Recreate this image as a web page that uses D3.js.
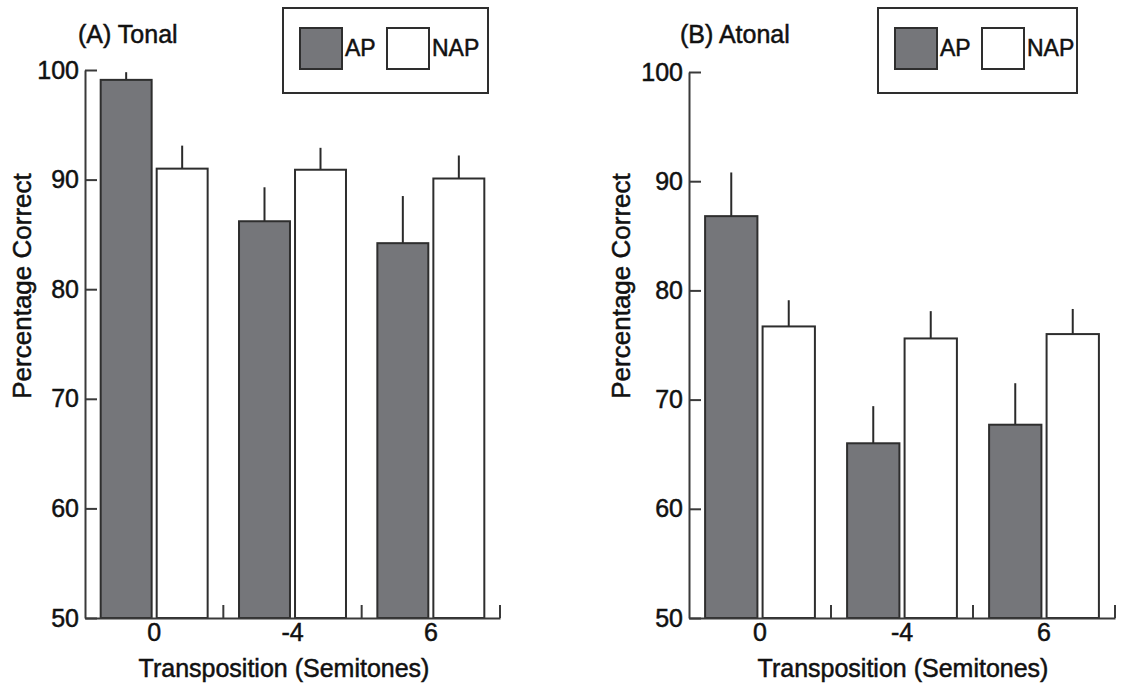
<!DOCTYPE html>
<html>
<head>
<meta charset="utf-8">
<script src="https://cdn.jsdelivr.net/npm/d3@7"></script>
<style>
  body { margin: 0; background: #fff; }
  svg { display: block; font-family: "Liberation Sans", Arial, Helvetica, sans-serif; }
  svg text { fill: #111; stroke: #111; stroke-width: 0.5px; }
  .axis path, .axis line { stroke: #3a3a3a; stroke-width: 2px; }
  .axis text { font-size: 25px; }
</style>
</head>
<body>
<div id="chart"></div>
<script>
var groups = ["0", "-4", "6"];
var series = ["AP", "NAP"];
var yTicks = [50, 60, 70, 80, 90, 100];

// (A) Tonal
var tonalAP = [99.1, 86.2, 84.2];
var tonalAPErr = [0.7, 3.1, 4.3];
var tonalNAP = [91.0, 90.9, 90.1];
var tonalNAPErr = [2.1, 2.0, 2.1];

// (B) Atonal
var atonalAP = [86.8, 66.0, 67.7];
var atonalAPErr = [4.0, 3.4, 3.8];
var atonalNAP = [76.7, 75.6, 76.0];
var atonalNAPErr = [2.4, 2.5, 2.3];

var colors = { AP: "#75767a", NAP: "#ffffff" };

var svg = d3.select("#chart")
  .append("svg")
  .attr("width", 1134)
  .attr("height", 688);

function drawPanel(p) {
  var g = svg.append("g");

  var xScale = d3.scaleBand().domain(groups).range([p.x0, p.x1]);
  var inner = d3.scaleBand().domain(series)
    .range([0, xScale.bandwidth()])
    .paddingInner(0.09)
    .paddingOuter(0.28);
  var yScale = d3.scaleLinear().domain([50, 100]).range([618, p.yTop]);

  var rows = [];
  groups.forEach(function(grp, i) {
    rows.push({ group: grp, s: "AP", v: p.ap[i], e: p.apErr[i] });
    rows.push({ group: grp, s: "NAP", v: p.nap[i], e: p.napErr[i] });
  });

  // error bars (one sided, up)
  g.selectAll(".err")
    .data(rows)
    .enter()
    .append("line")
    .attr("class", "err")
    .attr("x1", function(d) { return xScale(d.group) + inner(d.s) + inner.bandwidth() / 2; })
    .attr("x2", function(d) { return xScale(d.group) + inner(d.s) + inner.bandwidth() / 2; })
    .attr("y1", function(d) { return yScale(d.v); })
    .attr("y2", function(d) { return yScale(d.v + d.e); })
    .attr("stroke", "#2a2a2a")
    .attr("stroke-width", 2);

  g.selectAll(".bar")
    .data(rows)
    .enter()
    .append("rect")
    .attr("class", "bar")
    .attr("x", function(d) { return xScale(d.group) + inner(d.s); })
    .attr("width", inner.bandwidth())
    .attr("y", function(d) { return yScale(d.v); })
    .attr("height", function(d) { return yScale(50) - yScale(d.v); })
    .attr("fill", function(d) { return colors[d.s]; })
    .attr("stroke", "#2e2e2e")
    .attr("stroke-width", 2);

  // axes
  var yAxis = d3.axisLeft(yScale).tickValues(yTicks).tickSizeInner(-12).tickSizeOuter(0).tickPadding(6);
  g.append("g")
    .attr("class", "axis y-axis")
    .attr("transform", "translate(" + p.x0 + ",0)")
    .call(yAxis);

  var xAxis = d3.axisBottom(xScale).tickSize(0).tickPadding(5);
  g.append("g")
    .attr("class", "axis x-axis")
    .attr("transform", "translate(0,618)")
    .call(xAxis);

  // upward ticks between groups
  g.selectAll(".sep")
    .data(groups)
    .enter()
    .append("line")
    .attr("class", "sep")
    .attr("x1", function(d) { return xScale(d) + xScale.bandwidth(); })
    .attr("x2", function(d) { return xScale(d) + xScale.bandwidth(); })
    .attr("y1", 618)
    .attr("y2", 605)
    .attr("stroke", "#3a3a3a")
    .attr("stroke-width", 2);

  g.append("text")
    .attr("x", p.titleX)
    .attr("y", 43)
    .attr("style", "font-size:25px")
    .text(p.title);

  g.append("text")
    .attr("text-anchor", "middle")
    .attr("x", p.xLabelX)
    .attr("y", 677)
    .attr("style", "font-size:25px")
    .text("Transposition (Semitones)");

  g.append("text")
    .attr("text-anchor", "middle")
    .attr("transform", "translate(" + p.yLabelX + ",286) rotate(-90)")
    .attr("style", "font-size:26px")
    .text("Percentage Correct");

  // legend
  var leg = g.append("g").attr("transform", "translate(" + p.legX + ",8)");
  leg.append("rect")
    .attr("width", p.legW).attr("height", 85)
    .attr("fill", "#fff").attr("stroke", "#2e2e2e").attr("stroke-width", 2);
  var items = leg.selectAll(".item")
    .data(series)
    .enter()
    .append("g")
    .attr("transform", function(d, i) { return "translate(" + (17 + i * 87) + ",20)"; });
  items.append("rect")
    .attr("width", 42).attr("height", 41)
    .attr("fill", function(d) { return colors[d]; })
    .attr("stroke", "#2e2e2e").attr("stroke-width", 2);
  items.append("text")
    .attr("x", 45).attr("y", 28)
    .attr("style", "font-size:23px")
    .text(function(d) { return d; });
}

drawPanel({
  title: "(A) Tonal", titleX: 78,
  x0: 85, x1: 500, yTop: 70,
  ap: tonalAP, apErr: tonalAPErr, nap: tonalNAP, napErr: tonalNAPErr,
  xLabelX: 284, yLabelX: 31,
  legX: 283, legW: 205
});

drawPanel({
  title: "(B) Atonal", titleX: 680,
  x0: 689, x1: 1115, yTop: 72,
  ap: atonalAP, apErr: atonalAPErr, nap: atonalNAP, napErr: atonalNAPErr,
  xLabelX: 903, yLabelX: 630,
  legX: 878, legW: 199
});
</script>
</body>
</html>
